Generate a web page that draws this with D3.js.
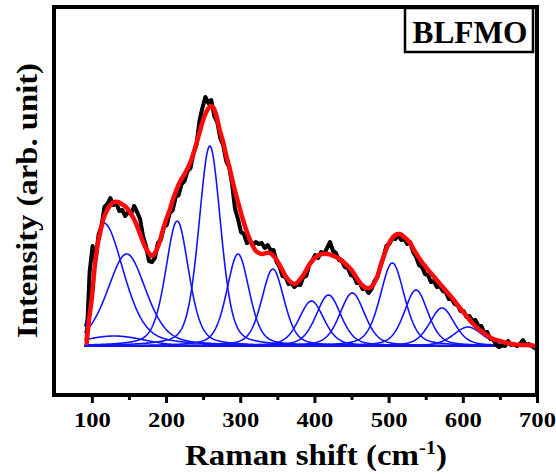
<!DOCTYPE html>
<html><head><meta charset="utf-8">
<script src="https://cdn.jsdelivr.net/npm/d3@7"></script>
<style>body{margin:0;background:#fff} svg{display:block}</style>
</head><body><svg id="c" width="556" height="474"></svg>
<script>
// ---- data ----
const majorTicks = [100, 200, 300, 400, 500, 600, 700];
const minorTicks = [150, 250, 350, 450, 550, 650];
const sampleLabel = "BLFMO";

// experimental spectrum (black)
const blackShift = [93,97,101,105,109,113,117,121,125,129,133,137,141,145,149,153,157,161,165,169,173,177,181,185,189,193,197,201,205,209,213,217,221,225,229,233,237,241,245,249,253,257,261,265,269,273,277,281,285,289,293,297,301,305,309,313,317,321,325,329,333,337,341,345,349,353,357,361,365,369,373,377,381,385,389,393,397,401,405,409,413,417,421,425,429,433,437,441,445,449,453,457,461,465,469,473,477,481,485,489,493,497,501,505,509,513,517,521,525,529,533,537,541,545,549,553,557,561,565,569,573,577,581,585,589,593,597,601,605,609,613,617,621,625,629,633,637,641,645,649,653,657,661,665,669,673,677,681,685,689,693,697,699];
const blackIntensity = [6,74,100,86,111,120,139,142,148,141,143,135,136,130,134,132,140,134,127,110,100,85,84,88,103,106,119,121,133,136,149,151,162,165,175,178,193,201,225,238,249,243,246,230,224,208,201,185,179,162,137,127,114,112,103,105,101,104,102,103,98,101,96,96,84,79,70,69,62,63,59,62,61,69,70,81,85,91,88,94,92,98,104,95,93,86,85,79,78,71,70,63,63,57,58,53,57,65,69,80,89,100,102,108,107,111,106,107,102,104,94,89,81,79,72,71,64,65,59,60,55,54,47,47,42,41,35,35,29,30,25,26,20,20,13,14,7,7,1,-1,1,0,5,1,2,0,2,6,1,2,0,-2,-3];

// cumulative fit (red)
const fitShift = [93,96,100,104,108,112,116,120,125,130,135,140,146,152,158,164,169,174,178,181,185,190,195,200,205,210,215,220,225,230,235,240,245,250,255,260,264,268,272,277,282,286,291,297,303,309,315,320,325,330,335,340,345,350,356,362,368,374,380,386,392,398,404,410,418,426,434,442,450,457,464,470,474,479,484,490,497,503,509,515,521,528,535,542,550,558,566,574,581,588,596,605,614,623,632,641,650,659,668,677,687,697,699];
const fitIntensity = [3,25,48,80,102,116,128,135,141,144,144,142,139,133,125,114,104,96,92,90,93,101,114,126,136,148,158,166,172,179,188,200,213,226,235,240,238,230,217,204,188,177,161,144,128,114,103,96,93,92,93,93,90,85,77,69,64,62,66,72,80,86,90,92,92,90,87,82,76,68,61,58,58,61,68,82,97,106,111,112,109,104,95,87,79,72,65,58,52,46,38,30,22,16,11,7,5,3,2,1,1,0,-1];

// fitted component peaks (blue, pseudo-Voigt)
const peakCenter    = [116, 147, 130, 215, 259, 297, 344, 396, 419, 451, 505, 537, 572, 607];
const peakHeight    = [123,  92,  10, 125, 200,  92,  77,  45,  51,  53,  83,  56,  38,  19];
const peakFwhmLeft  = [ 29,  62,  95,  37,  35,  36,  36,  40,  40,  40,  39,  38,  40,  46];
const peakFwhmRight = [ 64,  62,  95,  37,  35,  36,  36,  40,  40,  40,  39,  38,  40,  46];
const peakLorentzFraction = [0.4, 0.4, 0, 0.4, 0.35, 0.4, 0.4, 0.4, 0.4, 0.4, 0.4, 0.4, 0.4, 0.4];
const componentRange = [90, 650];

// ---- drawing ----
const svg = d3.select("#c");
const x = d3.scaleLinear().domain([49, 700]).range([54, 537]);
const y = d3.scaleLinear().domain([-49, 339]).range([395, 7]);

svg.append("defs").append("clipPath").attr("id","plotclip")
  .append("rect").attr("x",54).attr("y",7).attr("width",483).attr("height",388);

const plot = svg.append("g").attr("clip-path","url(#plotclip)");

// components
const comps = peakCenter.map((c,i)=>{
  const pts=[];
  const eta = peakLorentzFraction[i];
  for(let w=componentRange[0]; w<=componentRange[1]; w+=1){
    const f = w < c ? peakFwhmLeft[i] : peakFwhmRight[i];
    const u = (w-c)*(w-c)/(f*f);
    const g = Math.exp(-4*Math.LN2*u);
    const l = 1/(1+4*u);
    pts.push([w, peakHeight[i]*((1-eta)*g + eta*l)]);
  }
  return pts;
});
const line = d3.line().x(d=>x(d[0])).y(d=>y(d[1]));
plot.selectAll("path.comp").data(comps).join("path")
  .attr("class","comp").attr("d",line)
  .attr("fill","none").attr("stroke","#1414ff").attr("stroke-width",1.6);

// experimental
const blackData = blackShift.map((w,i)=>[w, blackIntensity[i]]);
plot.append("path").datum(blackData).attr("d",line)
  .attr("fill","none").attr("stroke","#000").attr("stroke-width",4)
  .attr("stroke-linejoin","round");

// fit
const fitData = fitShift.map((w,i)=>[w, fitIntensity[i]]);
plot.append("path").datum(fitData)
  .attr("d", d3.line().x(d=>x(d[0])).y(d=>y(d[1])).curve(d3.curveCatmullRom.alpha(0.5)))
  .attr("fill","none").attr("stroke","#ff0a0a").attr("stroke-width",4.5)
  .attr("stroke-linejoin","round").attr("stroke-linecap","round");

// axis ticks
const serif = "'Liberation Serif','Times New Roman',serif";
const gMinor = svg.append("g").attr("transform","translate(0,395)")
  .call(d3.axisBottom(x).tickValues(minorTicks).tickSize(5).tickSizeOuter(0).tickFormat(""));
gMinor.select(".domain").remove();
gMinor.selectAll("line").attr("stroke","#000").attr("stroke-width",3);

const gMajor = svg.append("g").attr("transform","translate(0,395)")
  .call(d3.axisBottom(x).tickValues(majorTicks).tickSize(8).tickSizeOuter(0).tickPadding(8.4).tickFormat(d3.format("d")));
gMajor.select(".domain").remove();
gMajor.selectAll("line").attr("stroke","#000").attr("stroke-width",3);
gMajor.selectAll("text").attr("fill","#000")
  .style("font-family",serif).style("font-weight","bold").style("font-size","22px")
  .attr("transform","scale(1.12,1)");

// frame
svg.append("rect").attr("x",54).attr("y",7).attr("width",483).attr("height",388)
  .attr("fill","none").attr("stroke","#000").attr("stroke-width",4);

// x title
const xt = svg.append("text").attr("text-anchor","middle")
  .style("font-family",serif).style("font-weight","bold").style("font-size","29px").attr("fill","#000");
xt.append("tspan").text("Raman shift (cm");
xt.append("tspan").text("-1").style("font-size","18px").attr("dy","-11");
xt.append("tspan").text(")").attr("dy","11");
{
  const w = xt.node().getComputedTextLength();
  xt.attr("transform",`translate(316,465) scale(${262/w},1)`);
}

// y title
const yt = svg.append("text").attr("text-anchor","middle")
  .style("font-family",serif).style("font-weight","bold").style("font-size","30px").attr("fill","#000")
  .text("Intensity (arb. unit)");
{
  const w = yt.node().getComputedTextLength();
  yt.attr("transform",`translate(37,200.5) rotate(-90) scale(${275/w},1)`);
}

// label box
svg.append("rect").attr("x",405).attr("y",8).attr("width",128).attr("height",44)
  .attr("fill","#fff").attr("stroke","#000").attr("stroke-width",2.5);
const lb = svg.append("text").attr("text-anchor","middle")
  .style("font-family",serif).style("font-weight","bold").style("font-size","32px").attr("fill","#000")
  .text(sampleLabel);
{
  const w = lb.node().getComputedTextLength();
  lb.attr("transform",`translate(470,43) scale(${115/w},1)`);
}
</script>
</body></html>
